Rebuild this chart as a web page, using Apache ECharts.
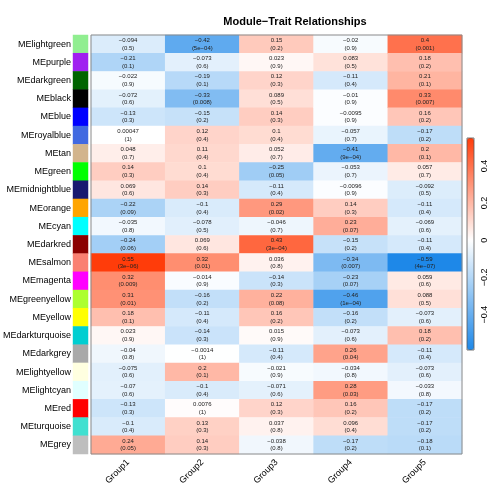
<!DOCTYPE html>
<html><head><meta charset="utf-8">
<script src="https://cdn.jsdelivr.net/npm/echarts@6/dist/echarts.min.js"></script>
<style>html,body{margin:0;padding:0;background:#fff}#c{width:500px;height:500px}</style>
</head><body><div id="c"></div>
<script>
const groups = ['Group1','Group2','Group3','Group4','Group5'];
const modules = ['MElightgreen','MEpurple','MEdarkgreen','MEblack','MEblue','MEroyalblue','MEtan','MEgreen','MEmidnightblue','MEorange','MEcyan','MEdarkred','MEsalmon','MEmagenta','MEgreenyellow','MEyellow','MEdarkturquoise','MEdarkgrey','MElightyellow','MElightcyan','MEred','MEturquoise','MEgrey'];
const corG1 = [-0.094,-0.21,-0.022,-0.072,-0.13,0.00047,0.048,0.14,0.069,-0.22,-0.035,-0.24,0.55,0.32,0.31,0.18,0.023,-0.04,-0.075,-0.07,-0.13,-0.1,0.24];
const corG2 = [-0.42,-0.073,-0.19,-0.33,-0.15,0.12,0.11,0.1,0.14,-0.1,-0.078,0.069,0.32,-0.014,-0.16,-0.11,-0.14,-0.0014,0.2,-0.1,0.0076,0.13,0.14];
const corG3 = [0.15,0.023,0.12,0.089,0.14,0.1,0.052,-0.25,-0.11,0.29,-0.046,0.43,0.036,-0.14,0.22,0.16,0.015,-0.11,-0.021,-0.071,0.12,0.037,-0.038];
const corG4 = [-0.02,0.083,-0.11,-0.01,-0.0095,-0.057,-0.41,-0.053,-0.0096,0.14,0.23,-0.15,-0.34,-0.23,-0.46,-0.16,-0.073,0.26,-0.034,0.28,0.16,0.096,-0.17];
const corG5 = [0.4,0.18,0.21,0.33,0.16,-0.17,0.2,0.057,-0.092,-0.11,-0.069,-0.11,-0.59,0.059,0.088,-0.073,0.18,-0.11,-0.073,-0.033,-0.17,-0.17,-0.18];
const pG1 = ['0.5','0.1','0.9','0.6','0.3','1','0.7','0.3','0.6','0.09','0.8','0.06','3e-06','0.009','0.01','0.1','0.9','0.8','0.6','0.6','0.3','0.4','0.05'];
const pG2 = ['5e-04','0.6','0.1','0.008','0.2','0.4','0.4','0.4','0.3','0.4','0.5','0.6','0.01','0.9','0.2','0.4','0.3','1','0.1','0.4','1','0.3','0.3'];
const pG3 = ['0.2','0.9','0.3','0.5','0.3','0.4','0.7','0.05','0.4','0.02','0.7','3e-04','0.8','0.3','0.08','0.2','0.9','0.4','0.9','0.6','0.3','0.8','0.8'];
const pG4 = ['0.9','0.5','0.4','0.9','0.9','0.7','9e-04','0.7','0.9','0.3','0.07','0.2','0.007','0.07','1e-04','0.2','0.6','0.04','0.8','0.03','0.2','0.4','0.2'];
const pG5 = ['0.001','0.2','0.1','0.007','0.2','0.2','0.1','0.7','0.5','0.4','0.6','0.4','4e-07','0.6','0.5','0.6','0.2','0.4','0.6','0.8','0.2','0.2','0.1'];
const colorTicks = [-0.4,-0.2,0,0.2,0.4];
const scaleMin = -0.59, scaleMax = 0.55;

const corCols = [corG1,corG2,corG3,corG4,corG5];
const pCols = [pG1,pG2,pG3,pG4,pG5];
const rColors = {lightgreen:'#90EE90',purple:'#A020F0',darkgreen:'#006400',black:'#000000',blue:'#0000FF',royalblue:'#4169E1',tan:'#D2B48C',green:'#00FF00',midnightblue:'#191970',orange:'#FFA500',cyan:'#00FFFF',darkred:'#8B0000',salmon:'#FA8072',magenta:'#FF00FF',greenyellow:'#ADFF2F',yellow:'#FFFF00',darkturquoise:'#00CED1',darkgrey:'#A9A9A9',lightyellow:'#FFFFE0',lightcyan:'#E0FFFF',red:'#FF0000',turquoise:'#40E0D0',grey:'#BEBEBE'};

const heat = [];
corCols.forEach((col,x)=>col.forEach((v,y)=>heat.push({value:[x,y,v], p:pCols[x][y]})));
const strip = modules.map((m,y)=>({value:[0,y,0], itemStyle:{color:rColors[m.slice(2)]}}));

// gradient: blue -> white (at 0) -> red
const blue=[30,136,232], red=[255,60,10];
const stops=[];
const N=115;
for(let i=0;i<N;i++){
  const v=scaleMin+(scaleMax-scaleMin)*i/(N-1);
  let c;
  if(v<0){const t=v/scaleMin; c=blue.map(b=>Math.round(255+(b-255)*t));}
  else {const t=v/scaleMax; c=red.map(b=>Math.round(255+(b-255)*t));}
  stops.push('rgb('+c.join(',')+')');
}
const fmt = s => String(s).replace(/-/g,'\u2212');
const FF = '"Liberation Sans", Arial, sans-serif';

const chart = echarts.init(document.getElementById('c'));
chart.setOption({
  animation:false,
  textStyle:{fontFamily:FF},
  title:{text:'Module\u2212Trait Relationships', left:290, top:11, textAlign:'center',
    textStyle:{fontSize:11, fontWeight:'bold', color:'#000', fontFamily:FF}},
  grid:[
    {left:91, top:35, width:371, height:419, show:true, borderColor:'#8a8a8a', borderWidth:1, backgroundColor:'transparent', z:5},
    {left:73, top:35, width:15, height:419},
    {left:467, top:138, width:7, height:212, show:true, borderColor:'#555', borderWidth:0.8, z:5}
  ],
  xAxis:[
    {type:'category', data:groups, gridIndex:0, axisLine:{show:false}, axisTick:{show:false}, splitLine:{show:false},
     axisLabel:{rotate:45, fontSize:9, color:'#000', margin:7, fontFamily:FF}},
    {type:'category', data:[''], gridIndex:1, show:false},
    {type:'value', gridIndex:2, show:false, min:0, max:1}
  ],
  yAxis:[
    {type:'category', data:modules, gridIndex:0, inverse:true, show:false},
    {type:'category', data:modules, gridIndex:1, inverse:true, axisLine:{show:false}, axisTick:{show:false},
     axisLabel:{fontSize:9, color:'#000', margin:2, fontFamily:FF}},
    {type:'value', gridIndex:2, min:scaleMin, max:scaleMax, position:'right', splitLine:{show:false},
     axisLine:{show:false},
     axisTick:{show:true, length:4, customValues:colorTicks, lineStyle:{color:'#333'}},
     axisLabel:{show:true, customValues:colorTicks, rotate:90, fontSize:9, color:'#000', margin:6, fontFamily:FF,
       formatter:v=>fmt(v)}}
  ],
  visualMap:{type:'continuous', min:scaleMin, max:scaleMax, seriesIndex:0, calculable:false,
    orient:'vertical', left:467, top:138, itemWidth:7, itemHeight:212, padding:0, text:['',''], textGap:0,
    inRange:{color:stops}},
  series:[
    {type:'heatmap', xAxisIndex:0, yAxisIndex:0, data:heat, itemStyle:{borderWidth:0},
     label:{show:true, fontSize:6, lineHeight:7.6, color:'#222', fontFamily:FF,
       formatter:p=>fmt(p.data.value[2])+'\n('+fmt(p.data.p)+')'}},
    {type:'heatmap', xAxisIndex:1, yAxisIndex:1, data:strip, itemStyle:{borderWidth:0}}
  ]
});
</script></body></html>
